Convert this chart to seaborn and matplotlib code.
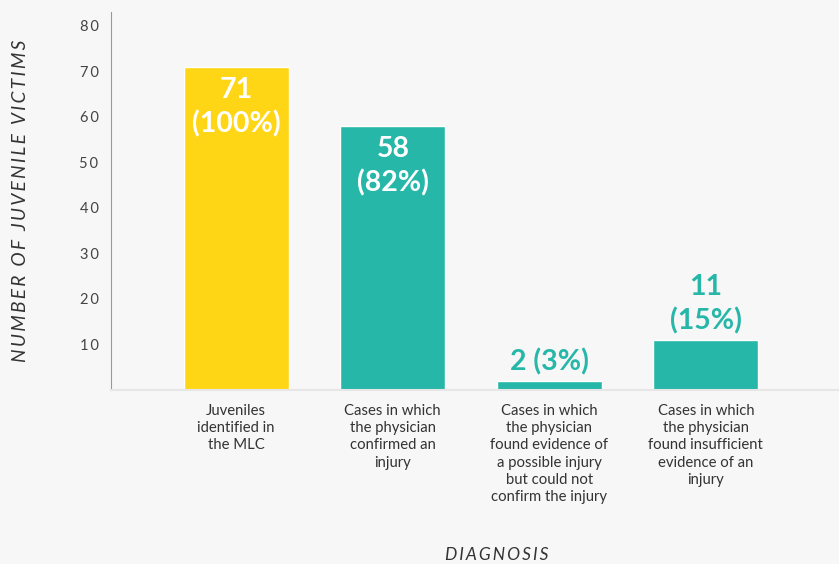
import pandas as pd
import numpy as np
import matplotlib
matplotlib.use("Agg")
import matplotlib.pyplot as plt
import seaborn as sns

# data
categories = [
    "Juveniles\nidentified in\nthe MLC",
    "Cases in which\nthe physician\nconfirmed an\ninjury",
    "Cases in which\nthe physician\nfound evidence of\na possible injury\nbut could not\nconfirm the injury",
    "Cases in which\nthe physician\nfound insufficient\nevidence of an\ninjury",
]
counts = [71, 58, 2, 11]
labels = ["71\n(100%)", "58\n(82%)", "2 (3%)", "11\n(15%)"]
inside = [True, True, False, False]
y_ticks = [10, 20, 30, 40, 50, 60, 70, 80]

yellow = "#FFD615"
teal = "#26B7A9"
bg = "#F7F7F7"
colors = [yellow, teal, teal, teal]


def spaced(s):
    # letter spacing with thin spaces
    return "\u2009".join(s)


sns.set_theme(style="white")
plt.rcParams["font.family"] = ["Lato", "DejaVu Sans"]

df = pd.DataFrame({"category": categories, "count": counts})

fig = plt.figure(figsize=(8.39, 5.64), dpi=100, facecolor=bg)
ax = fig.add_axes([0.1323, 0.3085, 0.8677, 0.6702])
ax.set_facecolor(bg)

sns.barplot(data=df, x="category", y="count", hue="category",
            palette=colors, width=0.67, legend=False, ax=ax, saturation=1)

ax.set_ylim(0, 83)
ax.set_xlim(-0.8, 3.85)
ax.set_yticks(y_ticks)
ax.set_yticklabels([spaced(str(t)) for t in y_ticks], color="#444444", fontsize=10.5)
ax.tick_params(axis="y", direction="in", length=9, width=0.8, color="#cccccc", pad=9)
ax.tick_params(axis="x", length=0, pad=10, labelsize=10.7, labelcolor="#333333")
for lab in ax.get_xticklabels():
    lab.set_linespacing(1.3)
    lab.set_verticalalignment("top")

for s in ["top", "right"]:
    ax.spines[s].set_visible(False)
ax.spines["left"].set_color("#999999")
ax.spines["left"].set_linewidth(0.8)
ax.spines["bottom"].set_color("#e6e6e6")
ax.spines["bottom"].set_linewidth(1.5)

for i, (v, t, ins) in enumerate(zip(counts, labels, inside)):
    if ins:
        ax.text(i, v - 2.2, t, ha="center", va="top", color="white",
                fontsize=20.5, fontweight="bold", linespacing=1.33)
    else:
        ax.text(i, v + 1.2, t, ha="center", va="bottom", color=teal,
                fontsize=20.5, fontweight="bold", linespacing=1.33)

ax.set_xlabel("")
fig.text(497 / 839, 1 - 555 / 564, spaced("DIAGNOSIS"), ha="center", va="center",
         fontsize=12.5, style="italic", color="#333333")
ax.set_ylabel(spaced("NUMBER OF JUVENILE VICTIMS"), fontsize=13.8, style="italic",
              color="#333333")
ax.yaxis.set_label_coords(-0.112, 0.5)

fig.savefig("out.png", dpi=100, facecolor=bg)
